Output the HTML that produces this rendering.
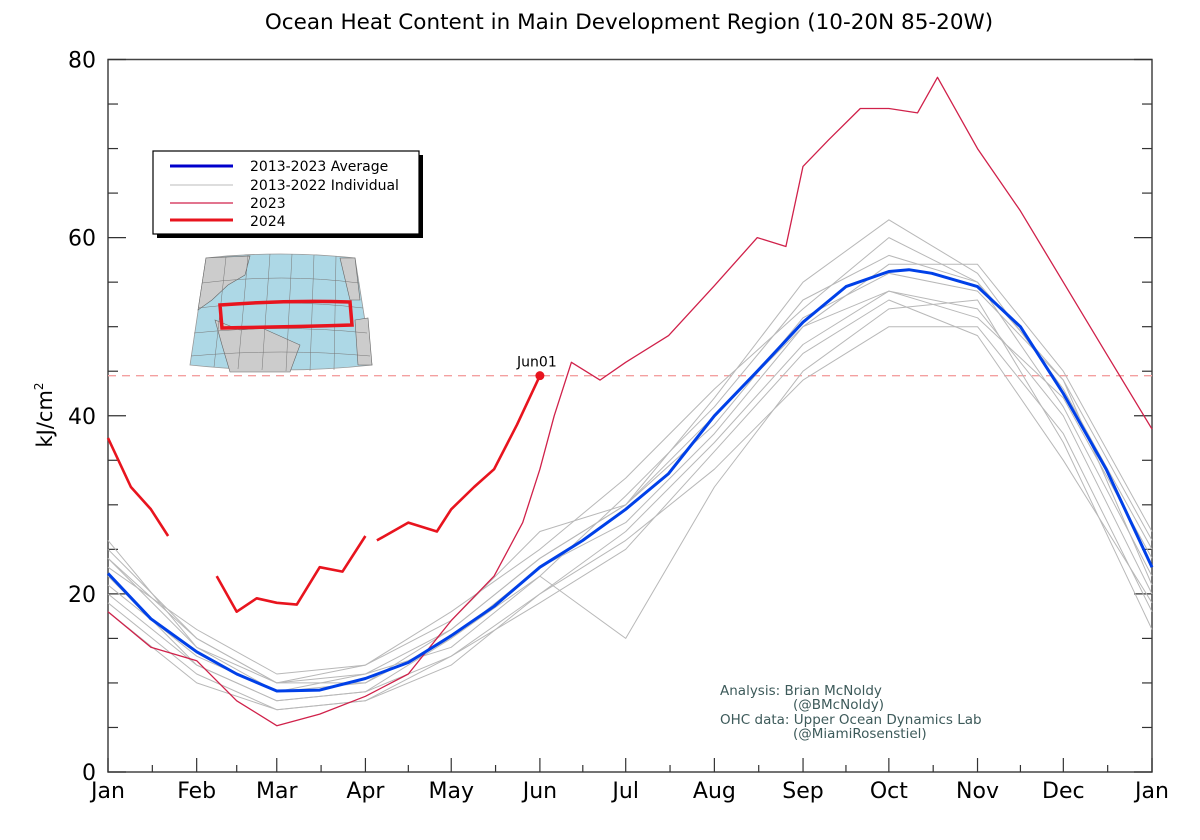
<!DOCTYPE html>
<html><head><meta charset="utf-8"><style>
html,body{margin:0;padding:0;background:#fff;}
svg{display:block;font-family:"DejaVu Sans","Liberation Sans",sans-serif;}
</style></head><body>
<svg id="chart" width="1200" height="840" viewBox="0 0 1200 840">
<text x="629" y="29" font-size="21.5" text-anchor="middle">Ocean Heat Content in Main Development Region (10-20N 85-20W)</text>
<g id="axes"></g>
<g id="series"></g>
<g id="legend">
<rect x="157" y="155" width="266" height="83" fill="#000"/>
<rect x="153" y="151" width="266" height="83" fill="#fff" stroke="#000" stroke-width="1.2"/>
<line x1="170" y1="166" x2="233" y2="166" stroke="#0000cc" stroke-width="3"/>
<text x="250" y="171" font-size="14">2013-2023 Average</text>
<line x1="170" y1="185" x2="233" y2="185" stroke="#bbb" stroke-width="1"/>
<text x="250" y="190" font-size="14">2013-2022 Individual</text>
<line x1="170" y1="203" x2="233" y2="203" stroke="#d0214a" stroke-width="1.2"/>
<text x="250" y="208" font-size="14">2023</text>
<line x1="170" y1="220" x2="233" y2="220" stroke="#e8141e" stroke-width="3"/>
<text x="250" y="226" font-size="14">2024</text>
</g>
<g id="map">
<path d="M206,258 Q280,250 355,258 L372,365 Q282,375 190,365 Z" fill="#add8e6" stroke="#999" stroke-width="0.8"/>
<path d="M206,258 L250,256 L245,275 L228,285 L212,300 L198,310 Z" fill="#ccc" stroke="#666" stroke-width="0.6"/>
<path d="M215,320 L240,330 L262,328 L300,345 L290,372 L230,372 L222,345 Z" fill="#ccc" stroke="#666" stroke-width="0.6"/>
<path d="M340,258 L355,258 L360,300 L350,300 Z" fill="#ccc" stroke="#666" stroke-width="0.6"/>
<path d="M355,320 L368,318 L372,365 L358,365 Z" fill="#ccc" stroke="#666" stroke-width="0.6"/>
<g stroke="#777" stroke-width="0.5" fill="none">
<path d="M226,257 L214,367 M248,255 L238,369 M270,254 L262,370 M292,254 L286,371 M314,255 L310,371 M336,256 L334,370"/>
<path d="M202,283 Q282,273 359,283 M198,308 Q282,298 363,308 M194,333 Q282,324 367,333 M191,356 Q282,348 370,356"/>
</g>
<path d="M220,305 Q285,300 350,302 L352,325 Q285,327 222,328 Z" fill="none" stroke="#e8141e" stroke-width="3.5"/>
</g>
<text x="720" y="695" font-size="13.5" fill="#3d5a5a">Analysis: Brian McNoldy</text>
<text x="793" y="709" font-size="13.5" fill="#3d5a5a">(@BMcNoldy)</text>
<text x="720" y="724" font-size="13.5" fill="#3d5a5a">OHC data: Upper Ocean Dynamics Lab</text>
<text x="793" y="738" font-size="13.5" fill="#3d5a5a">(@MiamiRosenstiel)</text>
</svg>
<script>
const monthLabels=["Jan","Feb","Mar","Apr","May","Jun","Jul","Aug","Sep","Oct","Nov","Dec","Jan"];
const monthStarts=[0,31,59,90,120,151,181,212,243,273,304,334,365];
const yTicks=[0,20,40,60,80];
const refValue=44.5;
const avgDays=[0,15,31,45,59,74,90,105,120,135,151,166,181,196,212,227,243,258,273,280,288,304,319,334,349,365];
const avgVals=[22.3,17.2,13.5,11,9.1,9.2,10.5,12.3,15.3,18.6,23,26,29.5,33.5,40,45,50.5,54.5,56.2,56.4,56,54.5,50,42.5,34,23];
const y2023Days=[0,15,31,45,59,74,90,105,120,135,145,151,156,162,172,181,196,212,227,237,243,252,263,273,283,290,304,319,334,349,365];
const y2023Vals=[18,14,12.5,8,5.2,6.5,8.5,11,17,22,28,34,40,46,44,46,49,54.6,60,59,68,71,74.5,74.5,74,78,70,63,55,47,38.5];
const y2024aDays=[0,8,15,21];
const y2024aVals=[37.5,32,29.5,26.5];
const y2024bDays=[38,45,52,59,66,74,82,90];
const y2024bVals=[22,18,19.5,19,18.8,23,22.5,26.5];
const y2024cDays=[94,105,115,120,128,135,143,151];
const y2024cVals=[26,28,27,29.5,32,34,39,44.5];
const gDays=monthStarts;
const g1=[25,15,10,11,16,24,30,42,55,62,56,43,25];
const g2=[20,12,8,9,13,20,27,37,48,54,52,40,20];
const g3=[24,14,9,10,15,22,31,41,53,58,55,44,26];
const g4=[19,11,7,8,12,20,26,34,44,50,50,38,18];
const g5=[23,16,11,12,17,27,30,40,50,57,57,45,27];
const g6=[21,13,9,11,14,22,15,32,45,52,53,37,16];
const g7=[26,14,10,12,18,25,33,43,52,60,55,41,22];
const g8=[22,12,8,9,15,23,28,38,50,54,51,42,24];
const g9=[18,10,7,8,13,19,25,36,47,53,49,35,19];
const g10=[24,15,10,10,16,24,30,39,51,56,54,44,21];
const grays=[g1,g2,g3,g4,g5,g6,g7,g8,g9,g10];

const X0=108,X1=1152,Y0=772,Y1=59.5;
const xs=d=>X0+d/365*(X1-X0);
const ys=v=>Y0-v/80*(Y0-Y1);
const NS="http://www.w3.org/2000/svg";
function mk(tag,attrs,parent){const e=document.createElementNS(NS,tag);for(const k in attrs)e.setAttribute(k,attrs[k]);parent.appendChild(e);return e;}
const axes=document.getElementById('axes'),series=document.getElementById('series');

function line(days,vals,stroke,w,name){
  const d=days.map((dd,i)=>(i?'L':'M')+xs(dd).toFixed(1)+','+ys(vals[i]).toFixed(1)).join(' ');
  const p=mk('path',{d:d,fill:'none',stroke:stroke,'stroke-width':w,'stroke-linejoin':'round'},series);
  
  
}
const ref=mk('line',{x1:X0,x2:X1,y1:ys(refValue),y2:ys(refValue),stroke:'#f4a0a0','stroke-width':1.3,'stroke-dasharray':'8,6'},series);


grays.forEach((g,i)=>line(gDays,g,'#b8b8b8',1,'individual-year-'+(i+1)));
line(y2023Days,y2023Vals,'#d0214a',1.3,'line-2023');
line(avgDays,avgVals,'#0040e8',3,'average-line');
line(y2024aDays,y2024aVals,'#e8141e',2.6,'line-2024-jan');
line(y2024bDays,y2024bVals,'#e8141e',2.6,'line-2024-feb-mar');
line(y2024cDays,y2024cVals,'#e8141e',2.6,'line-2024-apr-may');
const lastD=y2024cDays[y2024cDays.length-1],lastV=y2024cVals[y2024cVals.length-1];
const dot=mk('circle',{cx:xs(lastD),cy:ys(lastV),r:4.5,fill:'#e8141e'},series);


const ann=mk('text',{x:xs(lastD)-3,y:ys(lastV)-9,'font-size':14,'text-anchor':'middle'},series);
ann.textContent='Jun01';



const frame=mk('rect',{x:X0,y:Y1,width:X1-X0,height:Y0-Y1,fill:'none',stroke:'#444','stroke-width':1.5},axes);


for(let v=0;v<=80;v+=5){
  const len=v%20===0?18:10;
  mk('line',{x1:X0,x2:X0+len,y1:ys(v),y2:ys(v),stroke:'#333','stroke-width':1.2},axes);
  mk('line',{x1:X1,x2:X1-len,y1:ys(v),y2:ys(v),stroke:'#333','stroke-width':1.2},axes);
}
yTicks.forEach(v=>{
  const t=mk('text',{x:X0-12,y:ys(v)+8,'font-size':22,'text-anchor':'end'},axes);
  t.textContent=v;
  
  
});
monthStarts.forEach((d,i)=>{
  mk('line',{x1:xs(d),x2:xs(d),y1:Y0,y2:Y0-14,stroke:'#333','stroke-width':1.2},axes);
  if(i<12){const m=(d+monthStarts[i+1])/2;mk('line',{x1:xs(m),x2:xs(m),y1:Y0,y2:Y0-7,stroke:'#333','stroke-width':1.2},axes);}
  const t=mk('text',{x:xs(d),y:Y0+26,'font-size':22,'text-anchor':'middle'},axes);
  t.textContent=monthLabels[i];
  
  
});
const yl=mk('text',{transform:'translate(52,415) rotate(-90)','font-size':21,'text-anchor':'middle'},axes);
yl.innerHTML='kJ/cm<tspan dy="-9" font-size="12">2</tspan>';


</script>
</body></html>
